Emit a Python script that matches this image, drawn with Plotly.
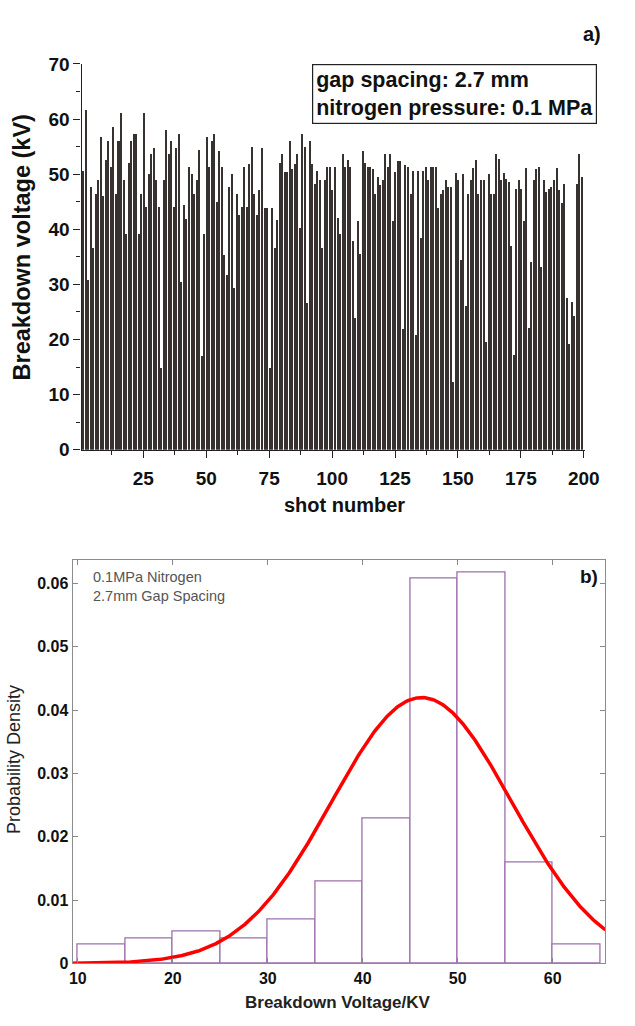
import numpy as np
import plotly.graph_objects as go

W, H = 635, 1026

# ---------------- data: panel a) ----------------
shot_voltage = [
    50.6, 61.6, 30.8, 47.7, 36.6, 46.5, 48.9, 56.7, 46.0, 52.5, 56.1, 51.4, 58.6, 46.5, 56.1, 61.1, 48.9, 39.1, 52.0, 56.1,
    57.3, 57.3, 39.1, 46.5, 61.1, 44.0, 50.0, 53.6, 54.7, 48.9, 44.0, 14.9, 48.9, 58.0, 53.7,
    56.1, 44.0, 54.7, 57.3, 30.5, 44.4, 41.9, 51.4, 50.0, 46.5, 48.9, 54.4, 17.0, 39.1, 56.7, 51.4, 56.1, 57.3, 45.0, 54.2,
    51.4, 35.3, 31.7, 47.7, 50.0, 29.3, 46.5, 42.7, 44.0, 51.4, 44.0, 51.8, 54.9,
    46.5, 42.7, 47.1, 54.8, 43.8, 43.8, 14.8, 43.8, 36.7, 41.7, 52.0, 53.7, 50.4, 50.4, 56.1, 50.9, 51.8, 53.6, 40.3, 57.3,
    55.0, 26.7, 56.1, 51.8, 48.3, 50.6, 48.9, 36.7, 48.9, 51.4, 51.4, 47.1,
    51.4, 42.0, 39.1, 53.7, 51.4, 52.5, 51.4, 37.9, 24.0, 41.5, 35.6, 54.2, 52.0, 51.4, 51.4, 50.9, 46.5, 49.5, 48.0, 48.9,
    53.7, 51.4, 53.7, 41.5, 50.5, 52.4, 52.4, 22.0, 51.6, 51.4, 46.5, 50.6, 20.8, 50.6,
    38.5, 50.6, 51.4, 48.9, 51.4, 51.4, 51.4, 43.8, 46.5, 47.1, 48.9, 47.7, 47.7, 12.3, 50.2, 48.9, 34.4, 50.0, 26.1, 46.5,
    48.9, 51.2, 52.5, 46.5, 48.9, 48.9, 19.6, 50.0, 46.5, 46.5, 53.7, 52.7, 48.9,
    50.2, 49.2, 48.6, 37.0, 17.2, 47.4, 48.9, 47.4, 41.5, 51.2, 22.2, 34.1, 48.9, 50.9, 51.4, 33.2, 48.9, 46.8, 47.4, 47.7,
    48.9, 51.2, 47.1, 44.7, 48.3, 27.6, 19.3, 26.9, 24.3, 48.3, 53.7, 49.5,
]
shot_numbers = list(range(1, len(shot_voltage) + 1))
a_yticks = [0, 10, 20, 30, 40, 50, 60, 70]
a_yminor = [5, 15, 25, 35, 45, 55, 65]
a_xticks = [25, 50, 75, 100, 125, 150, 175, 200]
a_xminor = [12.5, 37.5, 62.5, 87.5, 112.5, 137.5, 162.5, 187.5]

# ---------------- data: panel b) ----------------
bin_left_edges = [10, 15, 20, 25, 30, 35, 40, 45, 50, 55, 60]
bin_density = [0.003, 0.004, 0.005, 0.004, 0.007, 0.013, 0.0229, 0.0608, 0.0618, 0.016, 0.003]
bin_width = 5
fit_mean = 46.2
fit_sigma = 9.5
b_xticks = [10, 20, 30, 40, 50, 60]
b_yticks = [0, 0.01, 0.02, 0.03, 0.04, 0.05, 0.06]
b_yticklabels = ["0", "0.01", "0.02", "0.03", "0.04", "0.05", "0.06"]

FONT = "Liberation Sans, Arial, Helvetica, sans-serif"


def px_x(x):
    return x / W


def px_y(y):
    return 1 - y / H


fig = go.Figure()

# panel a bars
fig.add_trace(go.Bar(
    x=shot_numbers, y=shot_voltage, width=0.8,
    marker=dict(color="#37312f", line=dict(width=0)),
    xaxis="x", yaxis="y", showlegend=False,
))

# panel b histogram
centers = [e + bin_width / 2 for e in bin_left_edges]
fig.add_trace(go.Bar(
    x=centers, y=bin_density, width=bin_width,
    marker=dict(color="white", line=dict(color="#9d70ab", width=1.3)),
    xaxis="x2", yaxis="y2", showlegend=False,
))

# normal fit curve
b_xrange = [9.45, 65.55]
xs = np.linspace(b_xrange[0], b_xrange[1], 400)
ys = np.exp(-0.5 * ((xs - fit_mean) / fit_sigma) ** 2) / (fit_sigma * np.sqrt(2 * np.pi))
fig.add_trace(go.Scatter(
    x=xs, y=ys, mode="lines", line=dict(color="#ff0000", width=3.5),
    xaxis="x2", yaxis="y2", showlegend=False,
))

fig.update_layout(
    width=W, height=H,
    margin=dict(l=0, r=0, t=0, b=0),
    paper_bgcolor="white", plot_bgcolor="white",
    bargap=0,
    font=dict(family=FONT, color="#111111"),
    xaxis=dict(
        domain=[px_x(80), px_x(599)], range=[0.5, 200.5],
        tickvals=a_xticks, ticks="outside", ticklen=7, tickwidth=1.3, tickcolor="#222",
        minor=dict(tickmode="array", tickvals=a_xminor, ticks="outside", ticklen=4, tickwidth=1, tickcolor="#222"),
        showline=True, linecolor="#222", linewidth=1.3, showgrid=False, zeroline=False,
        tickfont=dict(size=19, family=FONT, color="#111", weight="bold"),
        ticklabelstandoff=4, anchor="y",
    ),
    yaxis=dict(
        domain=[px_y(449), px_y(55)], range=[0, 70],
        tickvals=a_yticks, ticks="outside", ticklen=7, tickwidth=1.3, tickcolor="#222",
        minor=dict(tickmode="array", tickvals=a_yminor, ticks="outside", ticklen=4, tickwidth=1, tickcolor="#222"),
        showline=True, linecolor="#222", linewidth=1.3, showgrid=False, zeroline=False,
        tickfont=dict(size=19, family=FONT, color="#111", weight="bold"),
        anchor="x",
    ),
    xaxis2=dict(
        domain=[px_x(70.7), px_x(620)], range=b_xrange,
        tickvals=b_xticks, ticks="inside", ticklen=5, tickcolor="#888",
        showline=True, linecolor="#8c8c8c", linewidth=1.2, mirror="allticks",
        showgrid=False, zeroline=False,
        tickfont=dict(size=16, family=FONT, color="#111", weight="bold"),
        anchor="y2",
    ),
    yaxis2=dict(
        domain=[px_y(973.3), px_y(561)], range=[0, 0.0638],
        tickvals=b_yticks, ticktext=b_yticklabels, ticks="inside", ticklen=5, tickcolor="#888",
        showline=True, linecolor="#8c8c8c", linewidth=1.2, mirror="allticks",
        showgrid=False, zeroline=False,
        tickfont=dict(size=16, family=FONT, color="#111", weight="bold"),
        anchor="x2",
    ),
)


def note(text, x, y, size, color="#111", angle=0, xa="center", ya="middle", **kw):
    d = dict(text=text, x=px_x(x), y=px_y(y), xref="paper", yref="paper",
             xanchor=xa, yanchor=ya, showarrow=False, textangle=angle,
             font=dict(size=size, family=FONT, color=color))
    d.update(kw)
    return d


ann = [
    note("<b>a)</b>", 606, 25, 20),
    note("<b>b)</b>", 603, 578, 19),
    note("<b>gap spacing: 2.7 mm<br>nitrogen pressure: 0.1 MPa</b>", 318, 55, 21.5, xa="left", ya="top",
         align="left", bordercolor="#222", borderwidth=1.2, borderpad=3, bgcolor="white"),
    note("<b>Breakdown voltage (kV)</b>", 19, 242, 23.5, angle=-90),
    note("<b>shot number</b>", 351, 505, 20),
    note("0.1MPa Nitrogen<br>2.7mm Gap Spacing", 90, 569, 14.5, color="#555", xa="left", ya="top", align="left"),
    note("<b>Breakdown Voltage/KV</b>", 344, 1013, 17, color="#222"),
    note("Probability Density", 11, 765, 18, color="#222", angle=-90),
]
fig.update_layout(annotations=ann)

fig.write_html("out.html", config={"displayModeBar": False},
               post_script="document.body.style.margin='0';document.body.style.overflow='hidden';")
